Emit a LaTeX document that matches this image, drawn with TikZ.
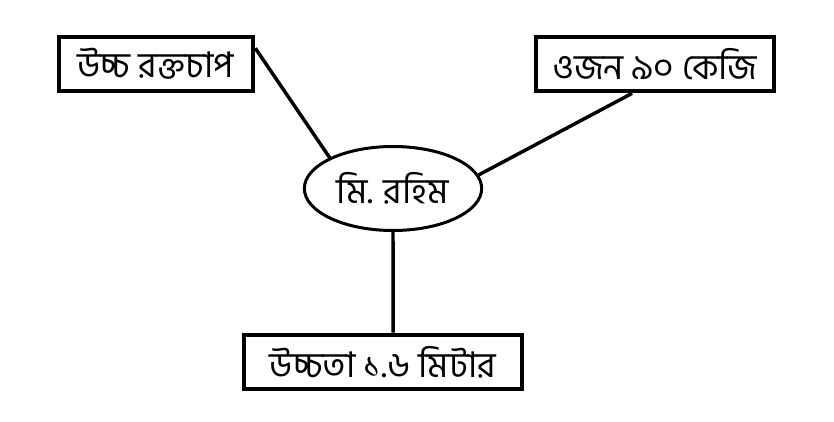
\documentclass[tikz,border=0pt]{standalone}
\usepackage{fontspec}
\usetikzlibrary{shapes.geometric}
\newfontfamily\bnFont[Script=Bengali]{Hind Siliguri}
\newcommand{\labelFont}{\bnFont\fontsize{26.5}{30}\selectfont}
\newcommand{\boxHeight}{41pt}

\begin{document}
\begin{tikzpicture}[x=0.75pt, y=-0.75pt,
      fact/.style={draw, rectangle, line width=3pt, inner sep=0pt, minimum height=\boxHeight, font=\labelFont},
      person/.style={draw, ellipse, line width=2.25pt, inner sep=0pt, minimum width=133pt, minimum height=63pt, font=\labelFont},
      link/.style={line width=2.6pt}]
\useasboundingbox (0,0) rectangle (834,421);
\node (rahim) [person] at (393,188.5) {মি. রহিম};
\node (pressure) [fact, minimum width=146pt] at (156,64) {উচ্চ রক্তচাপ};
\node (weight) [fact, minimum width=179pt] at (655,64) {ওজন ৯০ কেজি};
\node (height) [fact, minimum width=209pt] at (383,362) {উচ্চতা ১.৬ মিটার};
\draw[link] (pressure.9) -- (rahim.154);
\draw[link] (weight.232) -- (rahim.9);
\draw[link] (rahim.south) -- (height.71);
\end{tikzpicture}
\end{document}
